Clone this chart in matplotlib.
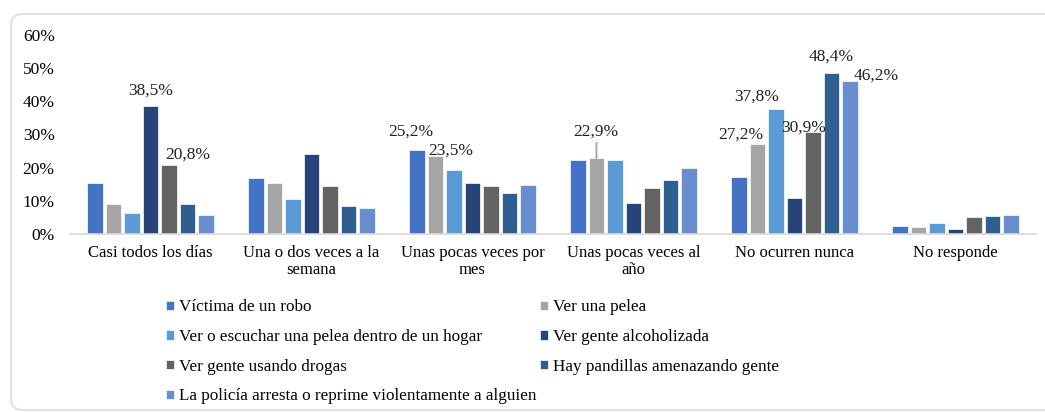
import numpy as np
import matplotlib.pyplot as plt
from matplotlib.patches import FancyBboxPatch
from matplotlib.transforms import IdentityTransform

categories = ["Casi todos los días", "Una o dos veces a la\nsemana", "Unas pocas veces por\nmes",
              "Unas pocas veces al\naño", "No ocurren nunca", "No responde"]
series_names = ["Víctima de un robo", "Ver una pelea",
                "Ver o escuchar una pelea dentro de un hogar", "Ver gente alcoholizada",
                "Ver gente usando drogas", "Hay pandillas amenazando gente",
                "La policía arresta o reprime violentamente a alguien"]
robo = [15.5, 16.8, 25.2, 22.2, 17.3, 2.5]
pelea = [9.0, 15.3, 23.5, 22.9, 27.2, 2.2]
hogar = [6.4, 10.6, 19.2, 22.3, 37.8, 3.3]
alcohol = [38.5, 24.1, 15.3, 9.3, 10.9, 1.6]
drogas = [20.8, 14.5, 14.4, 13.8, 30.9, 5.2]
pandillas = [9.0, 8.3, 12.3, 16.2, 48.4, 5.4]
policia = [5.7, 7.7, 14.7, 19.8, 46.2, 5.7]
series = [robo, pelea, hogar, alcohol, drogas, pandillas, policia]
colors = ["#4472C4", "#A5A5A5", "#5B9BD5", "#264478", "#636363", "#2F5F91", "#698ED0"]

# labelled bars: (series index, category index, dx px, dy px to label centre)
labels = [(3, 0, 0, 16), (4, 0, 19, 10), (0, 2, -6, 19), (1, 2, 15, 5),
          (1, 3, -1, 26), (1, 4, -17, 9), (2, 4, -19, 12), (4, 4, -9, 4),
          (5, 4, 0, 17), (6, 4, 26, 5)]

plt.rcParams['font.family'] = ['Liberation Serif', 'DejaVu Serif']

fig = plt.figure(figsize=(10.45, 4.12), dpi=100)
ax = fig.add_axes([70 / 1045, 1 - 234 / 412, 966 / 1045, 199 / 412])

# rounded frame around the chart (pixel coords)
frame = FancyBboxPatch((11, 2), 1100, 396, boxstyle="round,pad=0,rounding_size=12",
                       transform=IdentityTransform(), facecolor="none", edgecolor="#E0E0E0",
                       linewidth=1.5, clip_on=False)
fig.patches.append(frame)

x = np.arange(len(categories))
slot = 0.115
width = 0.095
for i, (vals, c, name) in enumerate(zip(series, colors, series_names)):
    ax.bar(x + (i - 3) * slot, np.array(vals) / 100, width=width, color=c,
           edgecolor="white", linewidth=0.5, label=name)

for si, ci, dx, dy in labels:
    v = series[si][ci] / 100
    xp = x[ci] + (si - 3) * slot
    ax.annotate(f"{series[si][ci]:.1f}%".replace(".", ","), (xp, v), xytext=(dx, dy),
                textcoords="offset pixels", ha="center", va="center", fontsize=12.5, color="#222222")

# leader line for 22,9%
v = pelea[3] / 100
ax.annotate("", (x[3] - 2 * slot, v), xytext=(x[3] - 2 * slot, v + 0.046),
            arrowprops=dict(arrowstyle="-", color="#A5A5A5", lw=1.3, shrinkA=0, shrinkB=0))

ax.set_xlim(-0.5, len(categories) - 0.5)
ax.set_ylim(0, 0.6)
ax.set_yticks(np.arange(0, 0.61, 0.1))
ax.set_yticklabels([f"{int(t)}%" for t in np.arange(0, 61, 10)], fontsize=12.5)
ax.set_xticks(x)
ax.set_xticklabels(categories, fontsize=12, linespacing=1.1)
ax.tick_params(length=0)
ax.tick_params(axis='x', pad=8)
ax.tick_params(axis='y', pad=11)
for s in ["top", "right", "left"]:
    ax.spines[s].set_visible(False)
ax.spines["bottom"].set_color("#D9D9D9")
ax.spines["bottom"].set_linewidth(1.2)

handles, lbls = ax.get_legend_handles_labels()
# order row-wise in 2 columns
order = [0, 2, 4, 6, 1, 3, 5]
fig.legend([handles[i] for i in order], [lbls[i] for i in order], ncol=2,
           loc="upper left", bbox_to_anchor=(151 / 1045, 1 - 284 / 412), frameon=False,
           fontsize=12.3, handlelength=0.45, handleheight=0.45, handletextpad=0.3,
           columnspacing=0.2, labelspacing=0.8)

fig.savefig("out.png", dpi=100)
